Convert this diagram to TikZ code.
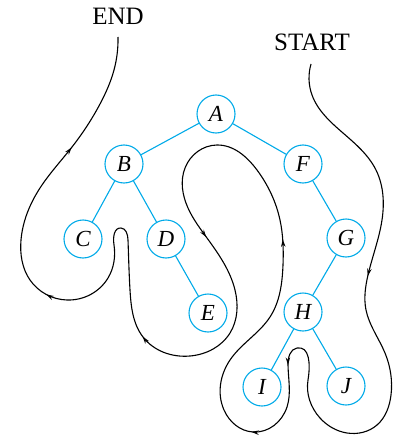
\documentclass[tikz,border=0pt]{standalone}
\usepackage{fontspec}
\setmainfont{Liberation Serif}
\usetikzlibrary{decorations.markings,arrows.meta,hobby}
\definecolor{treeblue}{RGB}{0,170,232}
\begin{document}
\begin{tikzpicture}[x=1pt,y=-1pt,
  vtx/.style={circle,draw=treeblue,line width=1.1pt,minimum size=38pt,inner sep=0pt,font=\fontsize{23}{25}\selectfont\itshape},
  edge/.style={draw=treeblue,line width=1.1pt},
  lbl/.style={font=\fontsize{25}{27}\selectfont,inner sep=0pt},
  tour/.style={line width=1.1pt,black,postaction={decorate},
    decoration={markings,
      mark=at position 0.129 with {\arrow{Stealth[length=7.5pt,width=4.5pt]}},
      mark=at position 0.3025 with {\arrow{Stealth[length=7.5pt,width=4.5pt]}},
      mark=at position 0.3505 with {\arrow{Stealth[length=7.5pt,width=4.5pt]}},
      mark=at position 0.473 with {\arrow{Stealth[length=7.5pt,width=4.5pt]}},
      mark=at position 0.6027 with {\arrow{Stealth[length=7.5pt,width=4.5pt]}},
      mark=at position 0.7136 with {\arrow{Stealth[length=7.5pt,width=4.5pt]}},
      mark=at position 0.8424 with {\arrow{Stealth[length=7.5pt,width=4.5pt]}},
      mark=at position 0.9344 with {\arrow{Stealth[length=7.5pt,width=4.5pt]}}}}]
\useasboundingbox (0,0) rectangle (393,436);
\node[vtx] (A) at (216,114) {A};
\node[vtx] (B) at (124,164) {B};
\node[vtx] (F) at (303,164) {F};
\node[vtx] (C) at (83,239) {C};
\node[vtx] (D) at (166,239) {D};
\node[vtx] (E) at (208,313) {E};
\node[vtx] (G) at (346,238) {G};
\node[vtx] (H) at (303,312) {H};
\node[vtx] (I) at (262,387) {I};
\node[vtx] (J) at (346,386) {J};
\draw[edge] (A) -- (B);
\draw[edge] (A) -- (F);
\draw[edge] (B) -- (C);
\draw[edge] (B) -- (D);
\draw[edge] (D) -- (E);
\draw[edge] (F) -- (G);
\draw[edge] (G) -- (H);
\draw[edge] (H) -- (I);
\draw[edge] (H) -- (J);
\node[lbl] (endl) at (118,16) {END};
\node[lbl] (startl) at (312,42) {START};
\coordinate (s) at (311,64);
\coordinate (e) at (118,37);
\draw[tour,use Hobby shortcut] (s) .. (312,95) .. (343,133) .. (376,170)
 .. (382,220) .. (368,275) .. (366,310) .. (385,353) .. (391,395) .. (377,425) .. (347,433)
 .. (320,418) .. (308,380) .. (297,348) .. (288,365) .. (287,407)
 .. (253,432) .. (224,410) .. (230,360) .. (270,317) .. (283,265)
 .. (280,220) .. (257,170) .. (217,145) .. (185,168) .. (188,208)
 .. (207,238) .. (235,290) .. (230,333) .. (190,356)
 .. (143,337) .. (130,290) .. (128,240) .. (121,228) .. (114,245) .. (108,278)
 .. (67,300) .. (30,280) .. (21,240) .. (40,188)
 .. (72,147) .. (100,104) .. (114,70) .. (e);
\end{tikzpicture}
\end{document}
